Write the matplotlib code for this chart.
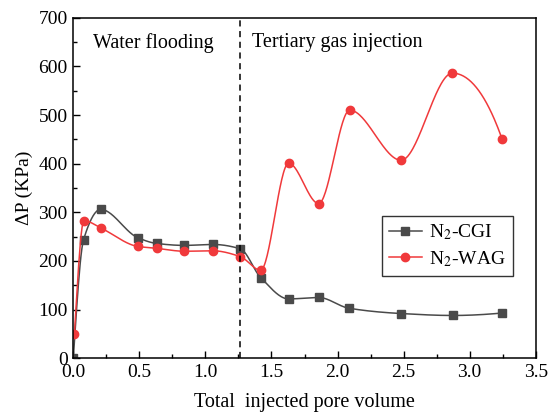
import numpy as np
import matplotlib
matplotlib.use("Agg")
import matplotlib.pyplot as plt
from matplotlib.ticker import MultipleLocator

plt.rcParams['font.family'] = ['Liberation Serif', 'DejaVu Serif']
plt.rcParams['mathtext.fontset'] = 'stix'

# data
cgi_x = [0.0, 0.078, 0.207, 0.487, 0.631, 0.840, 1.055, 1.264, 1.418, 1.630, 1.857, 2.085, 2.481, 2.872, 3.243]
cgi_y = [0, 244, 306, 248, 236, 232, 234, 225, 166, 122, 125, 103, 92, 88, 93]

wag_x = [0.008, 0.081, 0.207, 0.487, 0.631, 0.840, 1.055, 1.264, 1.418, 1.630, 1.857, 2.092, 2.481, 2.869, 3.245]
wag_y = [49, 283, 268, 230, 226, 220, 221, 209, 181, 401, 318, 510, 407, 586, 451]

boundary_x = 1.26


def pchip(x, y, n=500):
    """Shape-preserving cubic curve through the points."""
    x = np.asarray(x, float)
    y = np.asarray(y, float)
    h = np.diff(x)
    delta = np.diff(y) / h
    m = len(x)
    d = np.zeros(m)
    for k in range(1, m - 1):
        if delta[k - 1] * delta[k] > 0:
            w1 = 2 * h[k] + h[k - 1]
            w2 = h[k] + 2 * h[k - 1]
            d[k] = (w1 + w2) / (w1 / delta[k - 1] + w2 / delta[k])
    # end slopes
    d[0] = ((2 * h[0] + h[1]) * delta[0] - h[0] * delta[1]) / (h[0] + h[1])
    if np.sign(d[0]) != np.sign(delta[0]):
        d[0] = 0
    d[-1] = ((2 * h[-1] + h[-2]) * delta[-1] - h[-1] * delta[-2]) / (h[-1] + h[-2])
    if np.sign(d[-1]) != np.sign(delta[-1]):
        d[-1] = 0
    xs = np.linspace(x[0], x[-1], n)
    idx = np.clip(np.searchsorted(x, xs) - 1, 0, m - 2)
    t = (xs - x[idx]) / h[idx]
    h00 = 2 * t ** 3 - 3 * t ** 2 + 1
    h10 = t ** 3 - 2 * t ** 2 + t
    h01 = -2 * t ** 3 + 3 * t ** 2
    h11 = t ** 3 - t ** 2
    ys = h00 * y[idx] + h10 * h[idx] * d[idx] + h01 * y[idx + 1] + h11 * h[idx] * d[idx + 1]
    return xs, ys


fig = plt.figure(figsize=(5.54, 4.16), dpi=100)
ax = fig.add_axes([0.1323, 0.1387, 0.8347, 0.8188])

gray = '#4a4a4a'
red = '#f0393b'

sx, sy = pchip(cgi_x, cgi_y)
ax.plot(sx, sy, color=gray, lw=1.1)
ax.plot(cgi_x, cgi_y, 's', color=gray, ms=5.5, ls='none')
ax.plot([], [], 's-', color=gray, ms=5.5, lw=1.1, label=r'N$_2$-CGI')

sx, sy = pchip(wag_x, wag_y)
ax.plot(sx, sy, color=red, lw=1.1)
ax.plot(wag_x, wag_y, 'o', color=red, ms=6, ls='none')
ax.plot([], [], 'o-', color=red, ms=6, lw=1.1, label=r'N$_2$-WAG')

ax.axvline(boundary_x, color='black', ls='--', lw=1.1, dashes=(4, 3))

ax.text(0.15, 648, 'Water flooding', fontsize=14.5, va='center', ha='left')
ax.text(1.35, 648, 'Tertiary gas injection', fontsize=14.5, va='center', ha='left')

ax.set_xlim(0, 3.5)
ax.set_ylim(0, 700)
ax.xaxis.set_major_locator(MultipleLocator(0.5))
ax.xaxis.set_minor_locator(MultipleLocator(0.25))
ax.yaxis.set_major_locator(MultipleLocator(100))
ax.yaxis.set_minor_locator(MultipleLocator(50))
ax.tick_params(which='major', direction='in', length=5, width=1, labelsize=14, pad=4)
ax.tick_params(which='minor', direction='in', length=3, width=1)
for s in ax.spines.values():
    s.set_linewidth(1.1)

ax.set_xlabel('Total  injected pore volume', fontsize=14.5, labelpad=9)
ax.set_ylabel('ΔP (KPa)', fontsize=14, labelpad=4)

leg = ax.legend(loc='upper left', bbox_to_anchor=(0.667, 0.418), borderaxespad=0,
                fontsize=14, frameon=True, fancybox=False, edgecolor='black',
                handlelength=1.7, handletextpad=0.4, borderpad=0.35, labelspacing=0.35)
leg.get_frame().set_linewidth(1.0)

fig.savefig('out.png', dpi=100)
